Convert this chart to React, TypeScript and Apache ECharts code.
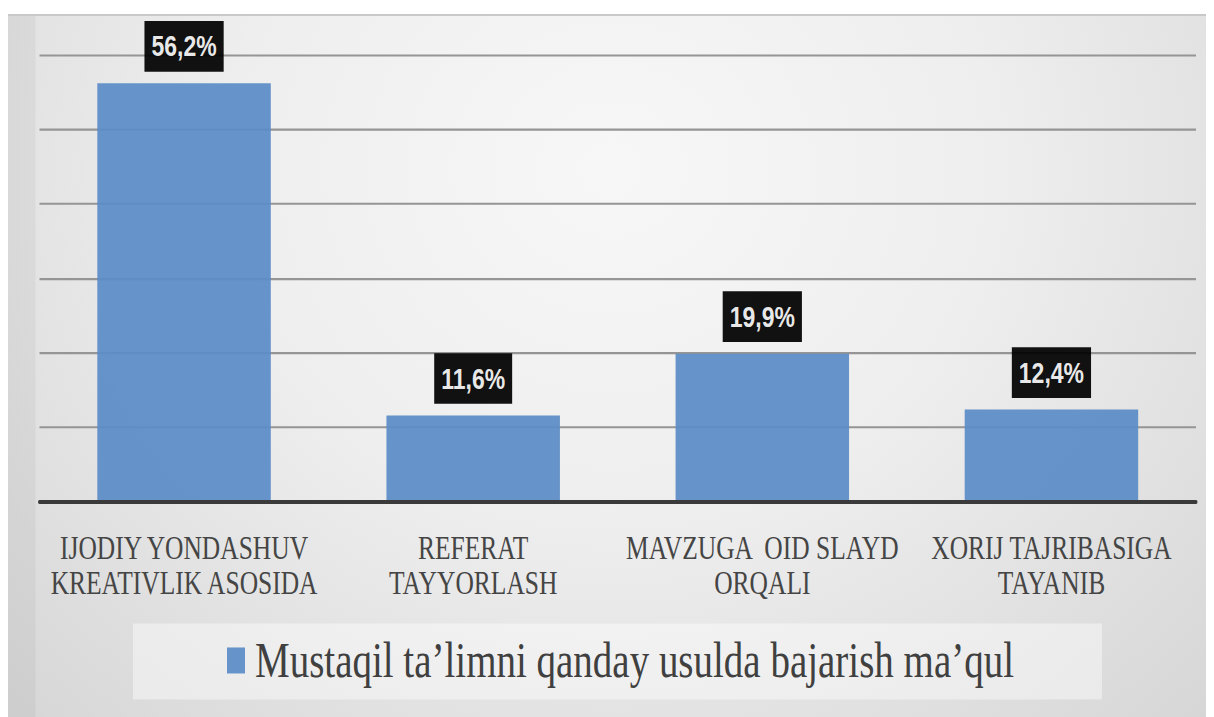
import React, { useEffect, useRef } from "react";
import * as echarts from "echarts";

const categories = [
  "IJODIY YONDASHUV\nKREATIVLIK ASOSIDA",
  "REFERAT\nTAYYORLASH",
  "MAVZUGA  OID SLAYD\nORQALI",
  "XORIJ TAJRIBASIGA\nTAYANIB",
];
const values = [56.2, 11.6, 19.9, 12.4];
const seriesName = "Mustaqil ta’limni qanday usulda bajarish ma’qul";
const yMin = 0;
const yMax = 60;
const yStep = 10;

const W = 1206;
const H = 703;
const IH = 541;
const S = H / IH;
const SERIF = "Liberation Serif";

export default function App() {
  const ref = useRef<HTMLDivElement>(null);
  useEffect(() => {
    const chart = echarts.init(ref.current as HTMLDivElement, null, { renderer: "svg" });
    chart.setOption({
      animation: false,
      backgroundColor: "transparent",
      grid: { left: 31.5, right: 18, top: 31.6, bottom: IH - 375.5 },
      graphic: [
        {
          type: "rect",
          z: 0,
          shape: { x: 125, y: 469, width: 969, height: 58.5 },
          style: { fill: "rgba(255,255,255,0.42)" },
        },
      ],
      legend: {
        show: true,
        left: 219,
        top: 478,
        padding: 0,
        itemWidth: 18,
        itemHeight: 20,
        icon: "rect",
        data: [seriesName],
        textStyle: {
          fontFamily: SERIF,
          fontSize: 39,
          color: "#404040",
          padding: [0, 0, 0, 5],
        },
      },
      xAxis: {
        type: "category",
        data: categories,
        axisLine: { show: true, lineStyle: { color: "#3a3a3a", width: 3 } },
        axisTick: { show: false },
        axisLabel: {
          interval: 0,
          margin: 22,
          fontFamily: SERIF,
          fontSize: 25.5,
          lineHeight: 27,
          color: "#454545",
        },
        z: 5,
      },
      yAxis: {
        type: "value",
        min: yMin,
        max: yMax,
        interval: yStep,
        axisLine: { show: false },
        axisTick: { show: false },
        axisLabel: { show: false },
        splitLine: { show: true, lineStyle: { color: "#959595", width: 1.6 } },
      },
      series: [
        {
          name: seriesName,
          type: "bar",
          data: values,
          barWidth: "60%",
          itemStyle: { color: "#5b8cc6", opacity: 0.93 },
          label: {
            show: true,
            position: "top",
            distance: 9,
            formatter: (p: any) => `${Number(p.value).toFixed(1).replace(".", ",")}%`,
            backgroundColor: "#000000",
            color: "#ffffff",
            fontFamily: "Liberation Sans",
            fontWeight: "bold",
            fontSize: 23,
            lineHeight: 23,
            padding: [8, 7, 8, 7],
          },
        },
      ],
    });
    return () => chart.dispose();
  }, []);

  return (
    <div
      style={{
        marginTop: 6,
        width: W,
        height: H,
        overflow: "hidden",
        position: "relative",
        background:
          "linear-gradient(to right, rgba(0,0,0,0.045) 0px, rgba(0,0,0,0.045) 27px, rgba(0,0,0,0) 28px), radial-gradient(ellipse at 50% 22%, #f7f7f7 0%, #eeeeee 45%, #d6d6d6 100%)",
        boxShadow: "inset 0 2px 0 #c8c8c8",
      }}
    >
      <div
        ref={ref}
        style={{ width: W, height: IH, transform: `scaleY(${S})`, transformOrigin: "0 0" }}
      />
    </div>
  );
}
